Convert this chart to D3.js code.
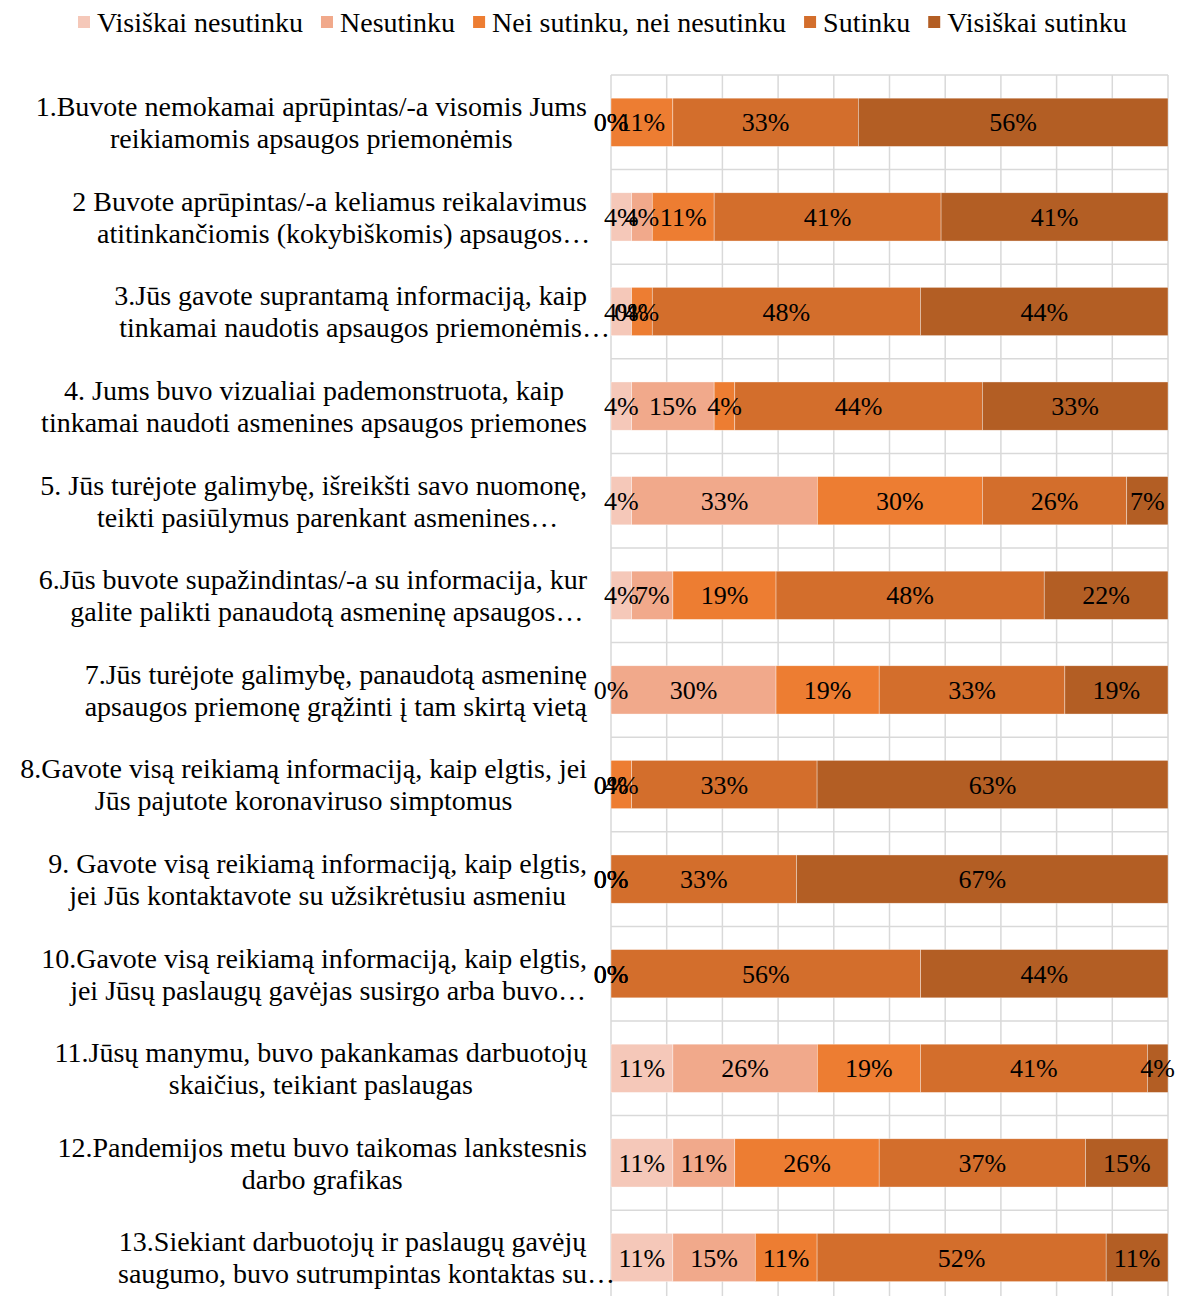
<!DOCTYPE html>
<html><head><meta charset="utf-8">
<script src="https://cdn.jsdelivr.net/npm/d3@7"></script>
<style>body{margin:0;background:#fff} svg{display:block} text{font-family:"Liberation Serif","Times New Roman",Tinos,serif;}</style>
</head><body>
<script>
const categoryLines = [
  ["1.Buvote nemokamai aprūpintas/-a visomis Jums", "reikiamomis apsaugos priemonėmis"],
  ["2 Buvote aprūpintas/-a keliamus reikalavimus", "atitinkančiomis (kokybiškomis) apsaugos…"],
  ["3.Jūs gavote suprantamą informaciją, kaip", "tinkamai naudotis apsaugos priemonėmis…"],
  ["4. Jums buvo vizualiai pademonstruota, kaip", "tinkamai naudoti asmenines apsaugos priemones"],
  ["5. Jūs turėjote galimybę, išreikšti savo nuomonę,", "teikti pasiūlymus parenkant asmenines…"],
  ["6.Jūs buvote supažindintas/-a su informacija, kur", "galite palikti panaudotą asmeninę apsaugos…"],
  ["7.Jūs turėjote galimybę, panaudotą asmeninę", "apsaugos priemonę grąžinti į tam skirtą vietą"],
  ["8.Gavote visą reikiamą informaciją, kaip elgtis, jei", "Jūs pajutote koronaviruso simptomus"],
  ["9. Gavote visą reikiamą informaciją, kaip elgtis,", "jei Jūs kontaktavote su užsikrėtusiu asmeniu"],
  ["10.Gavote visą reikiamą informaciją, kaip elgtis,", "jei Jūsų paslaugų gavėjas susirgo arba buvo…"],
  ["11.Jūsų manymu, buvo pakankamas darbuotojų", "skaičius, teikiant paslaugas"],
  ["12.Pandemijos metu buvo taikomas lankstesnis", "darbo grafikas"],
  ["13.Siekiant darbuotojų ir paslaugų gavėjų", "saugumo, buvo sutrumpintas kontaktas su…"]
];
const seriesNames = ["Visiškai nesutinku", "Nesutinku", "Nei sutinku, nei nesutinku", "Sutinku", "Visiškai sutinku"];
const visiskaiNesutinku = [0, 3.7, 3.7, 3.7, 3.7, 3.7, 0, 0, 0, 0, 11.1, 11.1, 11.1];
const nesutinku        = [0, 3.7, 0, 14.8, 33.3, 7.4, 29.6, 0, 0, 0, 25.9, 11.1, 14.8];
const neiSutinku       = [11.1, 11.1, 3.7, 3.7, 29.6, 18.5, 18.5, 3.7, 0, 0, 18.5, 25.9, 11.1];
const sutinku          = [33.3, 40.7, 48.1, 44.4, 25.9, 48.1, 33.3, 33.3, 33.3, 55.6, 40.7, 37.0, 51.9];
const visiskaiSutinku  = [55.6, 40.7, 44.4, 33.3, 7.4, 22.2, 18.5, 63.0, 66.7, 44.4, 3.7, 14.8, 11.1];
const xTicks = [0, 0.1, 0.2, 0.3, 0.4, 0.5, 0.6, 0.7, 0.8, 0.9, 1];
const colors = ["#f5c8b9", "#f1a98b", "#ed7d32", "#d36e2c", "#b35e24"];

const seriesValues = [visiskaiNesutinku, nesutinku, neiSutinku, sutinku, visiskaiSutinku];
const keys = seriesNames;
const rows = categoryLines.map((lines, i) => {
  const r = {idx: i};
  keys.forEach((k, j) => r[k] = seriesValues[j][i]);
  return r;
});

const W = 1180, H = 1296;
const plotLeft = 611, plotRight = 1168, plotTop = 75, bandH = 94.6;
const FS_CAT = 28, FS_LAB = 26, FS_LEG = 28;
const nCat = categoryLines.length;

const svg = d3.select("body").append("svg").attr("width", W).attr("height", H);

const x = d3.scaleLinear().domain([0, 1]).range([plotLeft, plotRight]);
const y = d3.scaleBand().domain(d3.range(nCat))
  .range([plotTop, plotTop + bandH * nCat]).paddingInner(0.49).paddingOuter(0.245);
const yGrid = d3.scaleBand().domain(d3.range(nCat))
  .range([plotTop, plotTop + bandH * nCat]);

const stack = d3.stack().keys(keys).offset(d3.stackOffsetExpand);
const stacked = stack(rows);

// gridlines
const grid = svg.append("g");
grid.selectAll("line.v").data(xTicks).join("line")
  .attr("x1", d => x(d)).attr("x2", d => x(d))
  .attr("y1", plotTop).attr("y2", plotTop + bandH * nCat)
  .attr("stroke", "#d9d9d9").attr("stroke-width", 1.5);
grid.selectAll("line.h").data(d3.range(nCat + 1)).join("line")
  .attr("x1", plotLeft).attr("x2", plotRight)
  .attr("y1", d => plotTop + d * yGrid.step()).attr("y2", d => plotTop + d * yGrid.step())
  .attr("stroke", "#d9d9d9").attr("stroke-width", 1.5);

// bars
const gBars = svg.append("g");
stacked.forEach((layer, j) => {
  gBars.append("g").attr("fill", colors[j])
    .selectAll("rect").data(layer).join("rect")
    .attr("x", d => x(d[0])).attr("width", d => Math.max(0, x(d[1]) - x(d[0])))
    .attr("y", d => y(d.data.idx)).attr("height", y.bandwidth())
    .attr("stroke", "#fff").attr("stroke-width", 0.6).attr("stroke-opacity", 0.6);
});

// data labels
const gLab = svg.append("g").attr("font-size", FS_LAB).attr("fill", "#000").attr("text-anchor", "middle");
stacked.forEach((layer, j) => {
  gLab.selectAll(null).data(layer).join("text")
    .attr("x", d => (x(d[0]) + x(d[1])) / 2)
    .attr("y", d => y(d.data.idx) + y.bandwidth() / 2)
    .attr("dy", "0.35em")
    .text(d => Math.round(d.data[keys[j]]) + "%");
});

// category labels
const gCat = svg.append("g").attr("font-size", FS_CAT).attr("fill", "#000");
const labelRight = 587, lineGap = 32;
categoryLines.forEach((lines, i) => {
  const cy = yGrid(i) + yGrid.bandwidth() / 2;
  const nodes = lines.map((ln, k) => {
    const base = ln.replace(/…$/, "");
    const t = gCat.append("text").text(base);
    const w = t.node().getComputedTextLength();
    t.text(ln);
    return {t, w, k};
  });
  const blockW = d3.max(nodes, n => n.w);
  const center = labelRight - blockW / 2;
  nodes.forEach(n => {
    n.t.attr("x", center - n.w / 2)
      .attr("y", cy + (n.k - (lines.length - 1) / 2) * lineGap)
      .attr("dy", "0.35em");
  });
});

// legend
const gLeg = svg.append("g").attr("font-size", FS_LEG);
let lx = 78;
seriesNames.forEach((name, j) => {
  gLeg.append("rect").attr("x", lx).attr("y", 16).attr("width", 12).attr("height", 12).attr("fill", colors[j]);
  const t = gLeg.append("text").attr("x", lx + 19).attr("y", 22).attr("dy", "0.35em").text(name);
  lx += 19 + t.node().getComputedTextLength() + 18;
});
</script>
</body></html>
